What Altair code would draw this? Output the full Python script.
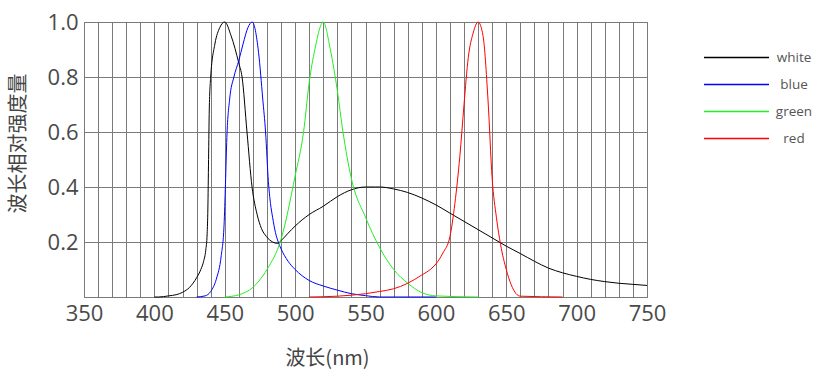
import altair as alt
import pandas as pd

# ---- data ----
series_names = ["white", "blue", "green", "red"]
series_colors = ["#000000", "#0000ff", "#22ee22", "#ff0000"]

white_nm = [400, 403, 410, 416, 420, 425, 430, 433, 435, 436.5, 437.5, 438, 438.5, 439, 440, 443,
            446.5, 450, 454.5, 460, 462.3, 465.8, 469.4, 473, 476, 479.6, 484, 487.5, 490, 495, 500,
            510, 520, 530, 540, 550, 557, 560, 570, 580, 590, 600, 610, 620, 630, 640, 650,
            660, 670, 680, 690, 700, 710, 720, 730, 740, 750]
white_val = [0, 0, 0.004, 0.009, 0.017, 0.035, 0.07, 0.1, 0.13, 0.17, 0.23, 0.32, 0.5, 0.68, 0.8, 0.92,
             0.98, 1.0, 0.95, 0.85, 0.8, 0.6, 0.4, 0.3, 0.25, 0.22, 0.2, 0.195, 0.205, 0.232, 0.258,
             0.3, 0.33, 0.365, 0.39, 0.4, 0.4, 0.4, 0.393, 0.38, 0.36, 0.335, 0.305, 0.275, 0.245, 0.215, 0.185,
             0.158, 0.13, 0.105, 0.088, 0.075, 0.064, 0.056, 0.05, 0.046, 0.042]

blue_nm = [430, 436, 440, 444, 447.5, 449.5, 450.5, 451.5, 453.5, 456.5, 460, 463, 466.5, 469.5,
           474, 477, 479, 481, 482.5, 484, 486, 488, 490, 495, 500, 510, 520, 530, 540, 550,
           560, 600]
blue_val = [0, 0.004, 0.02, 0.065, 0.15, 0.26, 0.41, 0.58, 0.72, 0.8, 0.86, 0.92, 0.98, 1.0,
            0.89, 0.72, 0.6, 0.42, 0.34, 0.29, 0.235, 0.2, 0.175, 0.13, 0.1, 0.06, 0.04, 0.025, 0.012, 0.005,
            0.0, 0.0]

green_nm = [450, 460, 470, 477.5, 480, 490, 500, 506, 510, 514, 520, 525, 530, 534, 540, 550,
            560, 570, 580, 590, 600, 630]
green_val = [0, 0.008, 0.035, 0.08, 0.1, 0.21, 0.44, 0.6, 0.78, 0.9, 1.0, 0.9, 0.75, 0.6, 0.43, 0.29,
             0.18, 0.1, 0.05, 0.016, 0.004, 0]

red_nm = [510, 530, 550, 560, 570, 580, 590, 596, 600, 605, 610, 613.5, 617, 620, 623, 626.5, 630,
          633.5, 637, 640, 643, 646, 650, 653.5, 657, 660, 690]
red_val = [0, 0.003, 0.012, 0.02, 0.03, 0.05, 0.08, 0.1, 0.12, 0.16, 0.22, 0.34, 0.51, 0.7, 0.87, 0.96, 1.0,
           0.95, 0.72, 0.43, 0.29, 0.19, 0.1, 0.045, 0.012, 0.003, 0]

x_grid_values = list(range(350, 751, 10))
y_grid_values = [0, 0.2, 0.4, 0.6, 0.8, 1.0]

rows = []
for name, xs, ys in [("white", white_nm, white_val), ("blue", blue_nm, blue_val),
                     ("green", green_nm, green_val), ("red", red_nm, red_val)]:
    for a, b in zip(xs, ys):
        rows.append({"series": name, "nm": a, "val": b})
df = pd.DataFrame(rows)

GRID = "#7a7a7a"
LABEL = "#4a4a4a"

chart = alt.Chart(df).mark_line(strokeWidth=1, interpolate="monotone").encode(
    x=alt.X("nm:Q",
            scale=alt.Scale(domain=[350, 750], nice=False, zero=False),
            axis=alt.Axis(values=x_grid_values,
                          labelExpr="datum.value % 50 == 0 ? datum.label : ''",
                          labelFlush=False, labelOverlap=False,
                          title="波长(nm)", titleX=243, titleY=61,
                          titleAlign="center", titleBaseline="middle")),
    y=alt.Y("val:Q",
            scale=alt.Scale(domain=[0, 1], nice=False),
            axis=alt.Axis(values=y_grid_values, format=".1f",
                          labelExpr="datum.value == 0 ? '' : datum.label",
                          labelFlush=False, labelOverlap=False,
                          title="波长相对强度量", titleX=-66, titleY=121,
                          titleAlign="center", titleBaseline="middle", titleAngle=270)),
    color=alt.Color("series:N",
                    scale=alt.Scale(domain=series_names, range=series_colors),
                    sort=series_names,
                    legend=alt.Legend(title=None, orient="none", legendX=619, legendY=28,
                                      symbolType="M-1,0H9", symbolSize=169,
                                      symbolStrokeWidth=1.5,
                                      labelAlign="center", labelOffset=76,
                                      labelFontSize=13.5, labelColor="#555555",
                                      labelFont="Open Sans", rowPadding=13)),
).properties(
    width=563, height=275,
    autosize=alt.AutoSizeParams(type="none"),
    padding={"left": 84, "top": 22, "right": 170, "bottom": 82},
).configure_view(
    stroke=GRID, strokeWidth=1
).configure_axis(
    domain=False, ticks=False,
    grid=True, gridColor=GRID, gridWidth=1, gridOpacity=1,
    labelFont="Open Sans", labelFontSize=22, labelColor=LABEL,
    titleFont="Noto Sans CJK SC", titleFontSize=20, titleColor="#444444",
    titleFontWeight="normal",
).configure_axisY(
    labelAlign="right", labelBaseline="middle", labelPadding=6,
).configure_axisX(
    labelPadding=6,
)

chart.save("out.html", embed_options={"renderer": "svg", "actions": False})
